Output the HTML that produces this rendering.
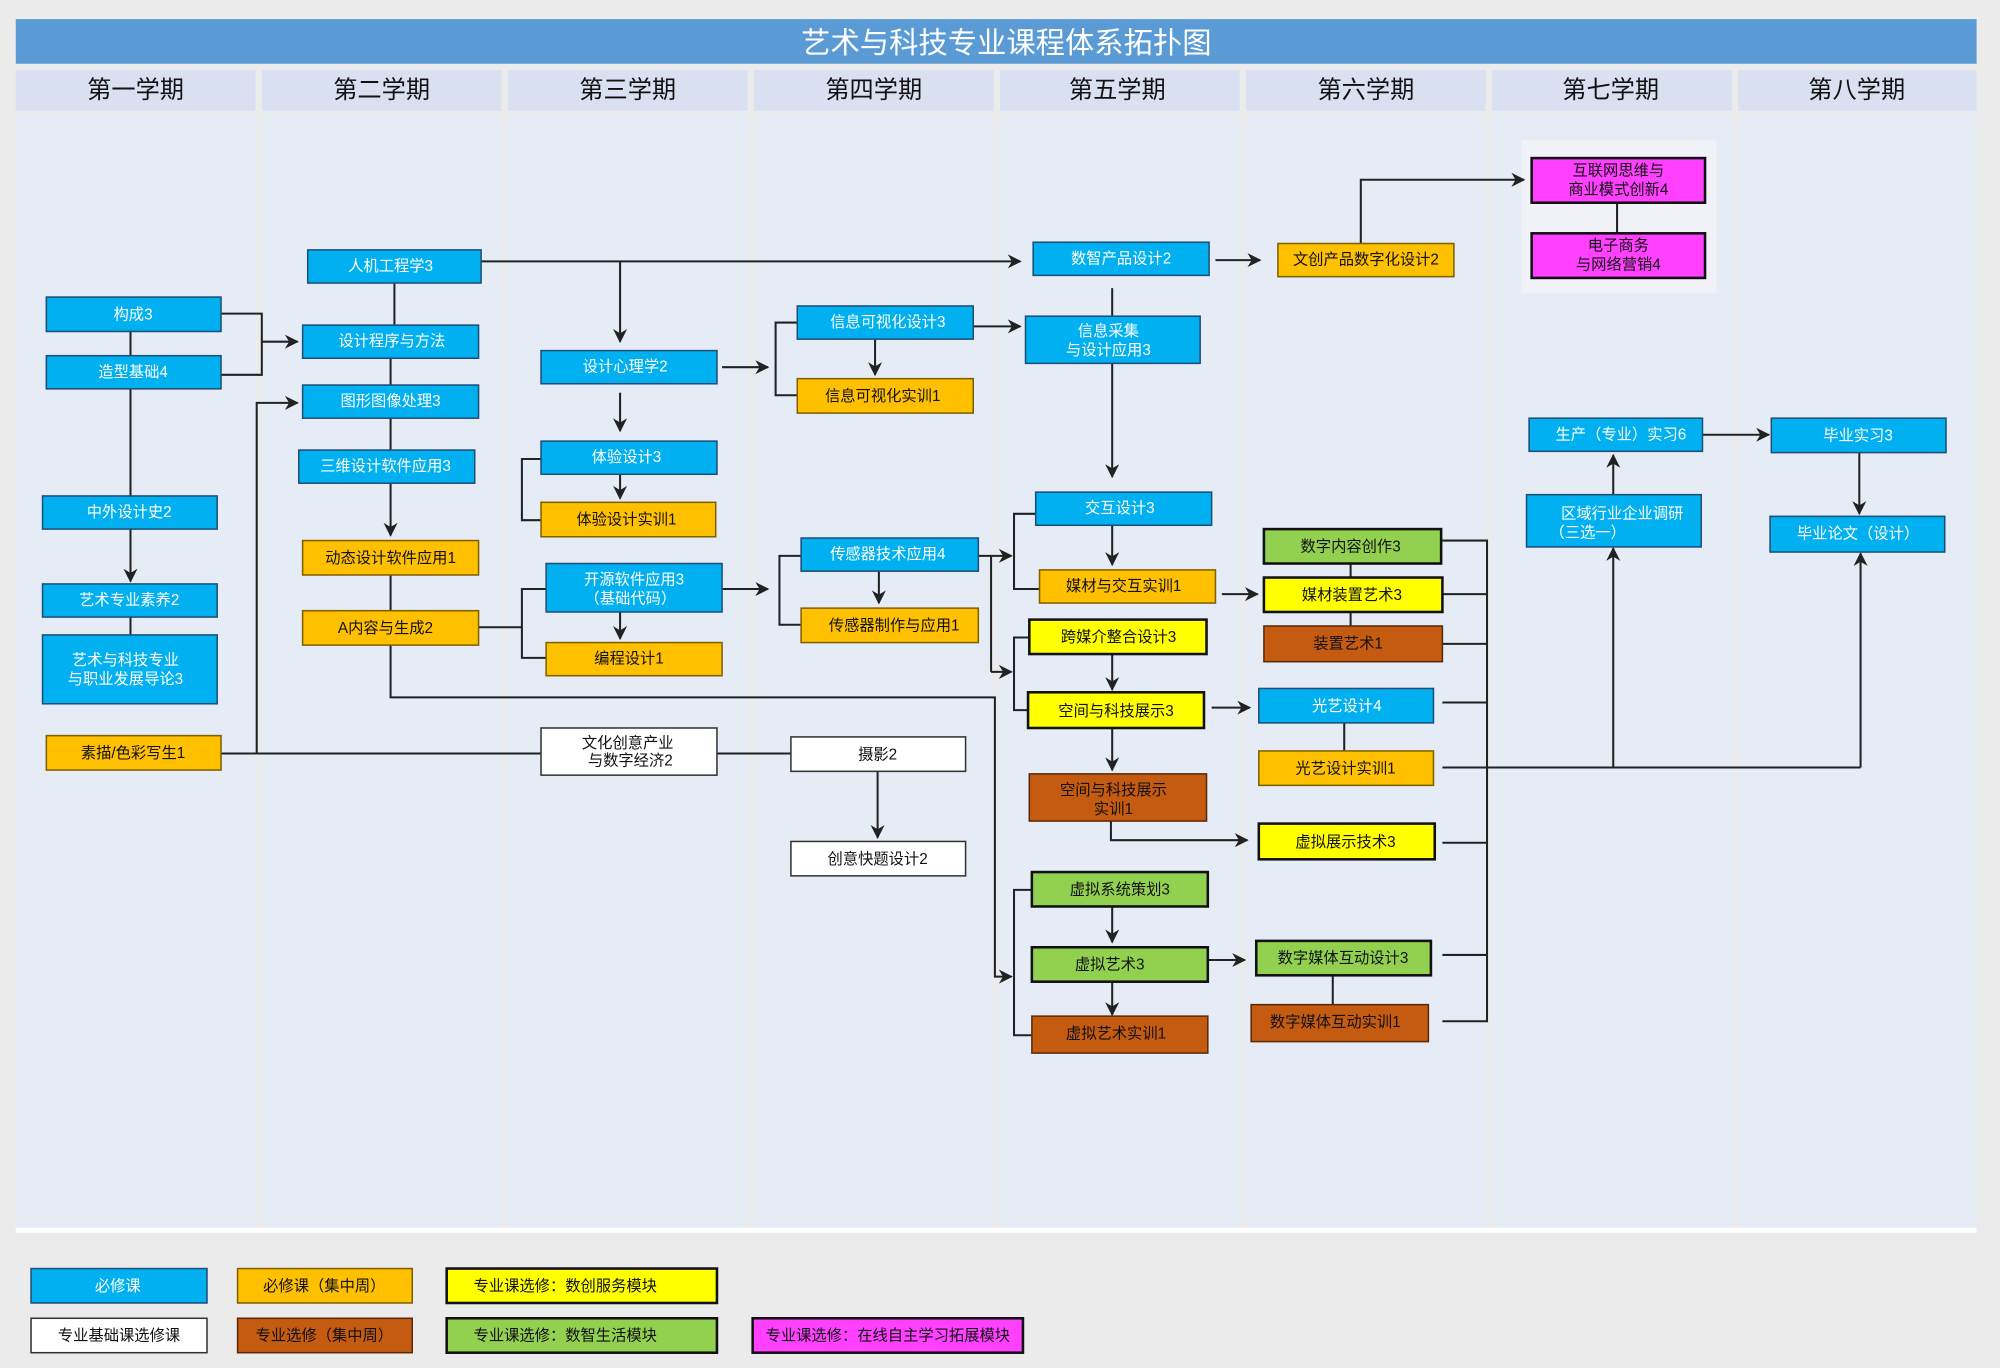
<!DOCTYPE html>
<html><head><meta charset="utf-8"><style>
html,body{margin:0;padding:0;background:#ebebeb;}
svg{display:block;}
text{font-family:"Liberation Sans","Noto Sans CJK SC",sans-serif;font-size:12px;text-anchor:middle;dominant-baseline:central;}
.b{fill:#00b0f0;stroke:#1f4e79;stroke-width:1.2}
.o{fill:#ffc000;stroke:#7f6000;stroke-width:1.2}
.y{fill:#ffff00;stroke:#111;stroke-width:2}
.g{fill:#92d050;stroke:#111;stroke-width:2}
.r{fill:#c55a11;stroke:#5a2a08;stroke-width:1.2}
.w{fill:#fff;stroke:#333;stroke-width:1.2}
.m{fill:#ff40ff;stroke:#111;stroke-width:2}
.tw{fill:#fff}
.tk{fill:#111}
.l{stroke:#222;stroke-width:1.6;fill:none}
.a{stroke:#222;stroke-width:1.6;fill:none;marker-end:url(#ar)}
</style></head><body>
<svg width="2000" height="1368" viewBox="0 0 1568 1073" xmlns="http://www.w3.org/2000/svg">
<defs><marker id="ar" viewBox="0 0 10 10" refX="9" refY="5" markerWidth="11" markerHeight="11" orient="auto" markerUnits="userSpaceOnUse"><path d="M0,0 L10,5 L0,10 L3,5 z" fill="#222"/></marker></defs>
<rect width="1568" height="1073" fill="#ebebeb"/>
<rect x="12" y="15" width="1538" height="35" fill="#5b9bd5"/>
<text x="789" y="34" class="tw" style="font-size:23px">艺术与科技专业课程体系拓扑图</text>
<g fill="#d9e0f1">
<rect x="12" y="55" width="188" height="32"/><rect x="205" y="55" width="188" height="32"/><rect x="398" y="55" width="188" height="32"/><rect x="591" y="55" width="188" height="32"/><rect x="784" y="55" width="188" height="32"/><rect x="977" y="55" width="188" height="32"/><rect x="1170" y="55" width="188" height="32"/><rect x="1363" y="55" width="187" height="32"/>
</g>
<g fill="#e6ecf6">
<rect x="12" y="90" width="188" height="873"/><rect x="205" y="90" width="188" height="873"/><rect x="398" y="90" width="188" height="873"/><rect x="591" y="90" width="188" height="873"/><rect x="784" y="90" width="188" height="873"/><rect x="977" y="90" width="188" height="873"/><rect x="1170" y="90" width="188" height="873"/><rect x="1363" y="90" width="187" height="873"/>
</g>
<rect x="12" y="963" width="1538" height="4" fill="#fff"/>
<g class="tk" style="font-size:19px">
<text x="106" y="71" style="font-size:19px">第一学期</text><text x="299" y="71" style="font-size:19px">第二学期</text><text x="492" y="71" style="font-size:19px">第三学期</text><text x="685" y="71" style="font-size:19px">第四学期</text><text x="876" y="71" style="font-size:19px">第五学期</text><text x="1071" y="71" style="font-size:19px">第六学期</text><text x="1263" y="71" style="font-size:19px">第七学期</text><text x="1456" y="71" style="font-size:19px">第八学期</text>
</g>
<rect x="1193" y="110" width="153" height="120" fill="#f0f2f8"/>

<!-- connectors -->
<path class="l" d="M173,246 H205 V294 H173 M102,260 V279 M102,305 V389 M102,484 V498"/>
<path class="a" d="M205,268 H233"/>
<path class="a" d="M102,415 V456"/>
<path class="l" d="M173,591 H424 M562,591 H620"/>
<path class="a" d="M201,591 V316 H233"/>
<path class="a" d="M688,605 V657"/>
<path class="l" d="M309,222 V255 M306,281 V302 M306,328 V353 M306,451 V479"/>
<path class="a" d="M306,379 V420"/>
<path class="a" d="M377,205 H800"/>
<path class="a" d="M486,205 V268"/>
<path class="a" d="M486,308 V338"/>
<path class="a" d="M566,288 H602"/>
<path class="l" d="M625,253 H608 V310 H625"/>
<path class="a" d="M686,266 V294"/>
<path class="a" d="M763,256 H800"/>
<path class="a" d="M486,372 V391"/>
<path class="l" d="M424,360 H409 V408 H424"/>
<path class="l" d="M375,492 H409 M428,462 H409 V516 H428"/>
<path class="a" d="M486,480 V501"/>
<path class="a" d="M566,462 H602"/>
<path class="l" d="M628,436 H611 V490 H628"/>
<path class="a" d="M689,448 V473"/>
<path class="l" d="M767,436 H777 V527"/>
<path class="a" d="M777,436 H793"/>
<path class="a" d="M777,527 H793"/>
<path class="l" d="M812,403 H795 V462 H815"/>
<path class="l" d="M807,500 H795 V557 H806"/>
<path class="a" d="M306,506 V547 H780 V766 H793"/>
<path class="l" d="M809,698 H795 V812 H809"/>
<path class="a" d="M953,204 H988"/>
<path class="l" d="M872,226 V248"/>
<path class="a" d="M872,285 V374"/>
<path class="a" d="M872,412 V443"/>
<path class="a" d="M958,466 H986"/>
<path class="a" d="M872,513 V541"/>
<path class="a" d="M950,555 H980"/>
<path class="a" d="M872,571 V604"/>
<path class="a" d="M871,644 V659 H978"/>
<path class="a" d="M872,711 V739"/>
<path class="a" d="M872,770 V796"/>
<path class="a" d="M947,753 H976"/>
<path class="a" d="M1067,191 V141 H1195"/>
<path class="l" d="M1268,159 V183"/>
<path class="l" d="M1059,442 V453 M1059,480 V491 M1054,567 V589 M1045,765 V788"/>
<path class="l" d="M1131,424 H1166 V801 H1131 M1131,466 H1166 M1131,505 H1166 M1131,551 H1166 M1131,661 H1166 M1131,749 H1166"/>
<path class="l" d="M1131,602 H1459"/>
<path class="a" d="M1265,602 V430"/>
<path class="a" d="M1459,602 V434"/>
<path class="a" d="M1265,388 V357"/>
<path class="a" d="M1335,341 H1387"/>
<path class="a" d="M1458,355 V403"/>

<!-- boxes -->
<g>
<rect class="b" x="36" y="233" width="137" height="27"/><text class="tw" x="104" y="247">构成3</text>
<rect class="b" x="36" y="279" width="137" height="26"/><text class="tw" x="104" y="292">造型基础4</text>
<rect class="b" x="33" y="389" width="137" height="26"/><text class="tw" x="101" y="402">中外设计史2</text>
<rect class="b" x="33" y="458" width="137" height="26"/><text class="tw" x="101" y="471">艺术专业素养2</text>
<rect class="b" x="33" y="498" width="137" height="54"/><text class="tw" x="98" y="518">艺术与科技专业</text><text class="tw" x="98" y="533">与职业发展导论3</text>
<rect class="o" x="36" y="577" width="137" height="27"/><text class="tk" x="104" y="591">素描/色彩写生1</text>
<rect class="b" x="241" y="196" width="136" height="26"/><text class="tw" x="306" y="209">人机工程学3</text>
<rect class="b" x="237" y="255" width="138" height="26"/><text class="tw" x="307" y="268">设计程序与方法</text>
<rect class="b" x="237" y="302" width="138" height="26"/><text class="tw" x="306" y="315">图形图像处理3</text>
<rect class="b" x="234" y="353" width="138" height="26"/><text class="tw" x="302" y="366">三维设计软件应用3</text>
<rect class="o" x="237" y="424" width="138" height="27"/><text class="tk" x="306" y="438">动态设计软件应用1</text>
<rect class="o" x="237" y="479" width="138" height="27"/><text class="tk" x="302" y="493">A内容与生成2</text>
<rect class="b" x="424" y="275" width="138" height="26"/><text class="tw" x="490" y="288">设计心理学2</text>
<rect class="b" x="424" y="346" width="138" height="26"/><text class="tw" x="491" y="359">体验设计3</text>
<rect class="o" x="424" y="394" width="137" height="27"/><text class="tk" x="491" y="408">体验设计实训1</text>
<rect class="b" x="428" y="442" width="138" height="38"/><text class="tw" x="497" y="455">开源软件应用3</text><text class="tw" x="494" y="470">（基础代码）</text>
<rect class="o" x="428" y="504" width="138" height="26"/><text class="tk" x="493" y="517">编程设计1</text>
<rect class="w" x="424" y="571" width="138" height="37"/><text class="tk" x="492" y="583">文化创意产业</text><text class="tk" x="494" y="597">与数字经济2</text>
<rect class="b" x="625" y="240" width="138" height="26"/><text class="tw" x="696" y="253">信息可视化设计3</text>
<rect class="o" x="625" y="297" width="138" height="27"/><text class="tk" x="692" y="311">信息可视化实训1</text>
<rect class="b" x="628" y="422" width="139" height="26"/><text class="tw" x="696" y="435">传感器技术应用4</text>
<rect class="o" x="628" y="477" width="139" height="27"/><text class="tk" x="701" y="491">传感器制作与应用1</text>
<rect class="w" x="620" y="578" width="137" height="27"/><text class="tk" x="688" y="592">摄影2</text>
<rect class="w" x="620" y="660" width="137" height="27"/><text class="tk" x="688" y="674">创意快题设计2</text>
<rect class="b" x="810" y="190" width="138" height="26"/><text class="tw" x="879" y="203">数智产品设计2</text>
<rect class="b" x="804" y="248" width="137" height="37"/><text class="tw" x="869" y="260">信息采集</text><text class="tw" x="869" y="275">与设计应用3</text>
<rect class="b" x="812" y="386" width="138" height="26"/><text class="tw" x="878" y="399">交互设计3</text>
<rect class="o" x="815" y="447" width="138" height="26"/><text class="tk" x="881" y="460">媒材与交互实训1</text>
<rect class="y" x="807" y="486" width="139" height="27"/><text class="tk" x="877" y="500">跨媒介整合设计3</text>
<rect class="y" x="806" y="543" width="138" height="28"/><text class="tk" x="875" y="558">空间与科技展示3</text>
<rect class="r" x="807" y="607" width="139" height="37"/><text class="tk" x="873" y="620">空间与科技展示</text><text class="tk" x="873" y="635">实训1</text>
<rect class="g" x="809" y="684" width="138" height="27"/><text class="tk" x="878" y="698">虚拟系统策划3</text>
<rect class="g" x="809" y="743" width="138" height="27"/><text class="tk" x="870" y="757">虚拟艺术3</text>
<rect class="r" x="809" y="797" width="138" height="29"/><text class="tk" x="875" y="811">虚拟艺术实训1</text>
<rect class="o" x="1002" y="191" width="138" height="26"/><text class="tk" x="1071" y="204">文创产品数字化设计2</text>
<rect class="g" x="991" y="415" width="139" height="27"/><text class="tk" x="1059" y="429">数字内容创作3</text>
<rect class="y" x="991" y="453" width="140" height="27"/><text class="tk" x="1060" y="467">媒材装置艺术3</text>
<rect class="r" x="991" y="491" width="140" height="28"/><text class="tk" x="1057" y="505">装置艺术1</text>
<rect class="b" x="987" y="540" width="137" height="27"/><text class="tw" x="1056" y="554">光艺设计4</text>
<rect class="o" x="987" y="589" width="137" height="27"/><text class="tk" x="1055" y="603">光艺设计实训1</text>
<rect class="y" x="987" y="646" width="138" height="28"/><text class="tk" x="1055" y="661">虚拟展示技术3</text>
<rect class="g" x="985" y="738" width="137" height="27"/><text class="tk" x="1053" y="752">数字媒体互动设计3</text>
<rect class="r" x="981" y="788" width="139" height="29"/><text class="tk" x="1047" y="802">数字媒体互动实训1</text>
<rect class="m" x="1201" y="124" width="136" height="35"/><text class="tk" x="1269" y="134">互联网思维与</text><text class="tk" x="1269" y="149">商业模式创新4</text>
<rect class="m" x="1201" y="183" width="136" height="35"/><text class="tk" x="1269" y="193">电子商务</text><text class="tk" x="1269" y="208">与网络营销4</text>
<rect class="b" x="1199" y="328" width="136" height="26"/><text class="tw" x="1271" y="341">生产（专业）实习6</text>
<rect class="b" x="1197" y="388" width="137" height="41"/><text class="tw" x="1272" y="403">区域行业企业调研</text><text class="tw" x="1245" y="418">（三选一）</text>
<rect class="b" x="1389" y="328" width="137" height="27"/><text class="tw" x="1457" y="342">毕业实习3</text>
<rect class="b" x="1388" y="405" width="137" height="28"/><text class="tw" x="1457" y="419">毕业论文（设计）</text>
</g>

<!-- legend -->
<rect class="b" x="24" y="995" width="138" height="27"/><text class="tw" x="92" y="1009">必修课</text>
<rect class="o" x="186" y="995" width="137" height="27"/><text class="tk" x="254" y="1009">必修课（集中周）</text>
<rect class="y" x="350" y="995" width="212" height="27"/><text class="tk" x="443" y="1009">专业课选修：数创服务模块</text>
<rect class="w" x="24" y="1034" width="138" height="27"/><text class="tk" x="93" y="1048">专业基础课选修课</text>
<rect class="r" x="186" y="1034" width="137" height="27"/><text class="tk" x="254" y="1048">专业选修（集中周）</text>
<rect class="g" x="350" y="1034" width="212" height="27"/><text class="tk" x="443" y="1048">专业课选修：数智生活模块</text>
<rect class="m" x="590" y="1034" width="212" height="27"/><text class="tk" x="696" y="1048">专业课选修：在线自主学习拓展模块</text>
</svg>
</body></html>
